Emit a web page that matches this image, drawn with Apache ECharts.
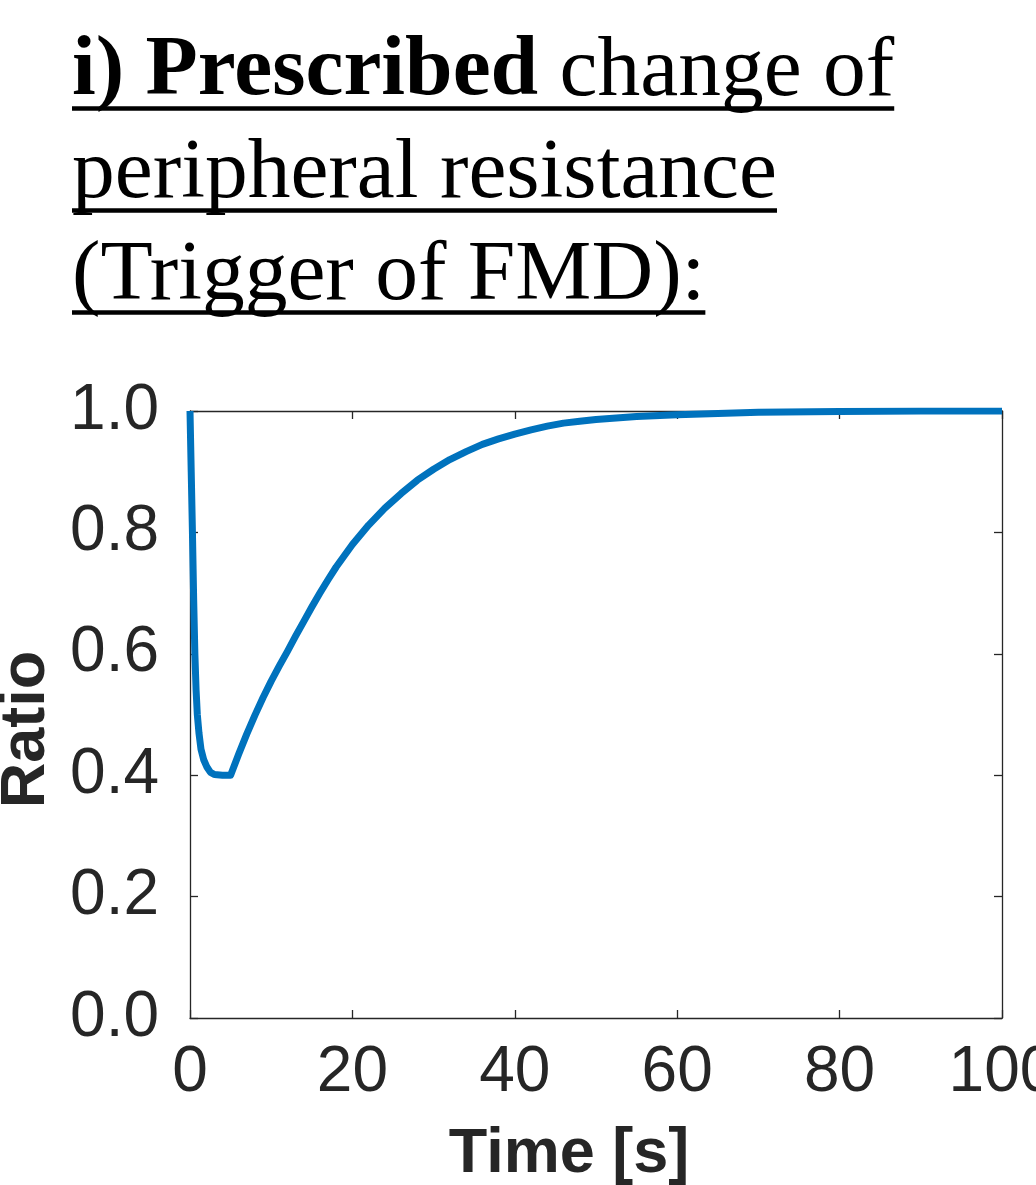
<!DOCTYPE html>
<html>
<head>
<meta charset="utf-8">
<script src="https://cdn.jsdelivr.net/npm/echarts@6/dist/echarts.min.js"></script>
<style>
  html, body { margin: 0; padding: 0; background: #ffffff; }
  #chart { width: 1036px; height: 1185px; }
</style>
</head>
<body>
<div id="chart"></div>
<script>
// Prescribed peripheral resistance ratio over time
const timeS = [0, 0.15, 0.3, 0.45, 0.6, 0.75, 0.9, 1.1, 1.35, 1.7, 2.1, 2.5, 3.0, 4.0, 5.0,
  6, 7, 8, 9, 10, 11, 12, 13, 14, 15, 16, 17, 18, 20, 22, 24, 26, 28, 30, 32, 34, 36, 38, 40,
  42, 44, 46, 48, 50, 55, 60, 65, 70, 80, 90, 100];
const ratio = [1.0, 0.9, 0.8, 0.69, 0.6, 0.54, 0.5, 0.47, 0.443, 0.425, 0.413, 0.405, 0.401, 0.4, 0.4,
  0.435, 0.468, 0.499, 0.528, 0.555, 0.580, 0.604, 0.629, 0.653, 0.677, 0.700, 0.722, 0.743, 0.780, 0.812, 0.840, 0.864, 0.886, 0.904, 0.920, 0.933, 0.945, 0.954, 0.962,
  0.969, 0.975, 0.980, 0.983, 0.986, 0.991, 0.994, 0.996, 0.998, 0.999, 1.0, 1.0];

const xTicks = [0, 20, 40, 60, 80, 100];
const yTicks = [0, 0.2, 0.4, 0.6, 0.8, 1.0];

const titleBold = 'i) Prescribed';
const titleLine1 = ' change of';
const titleLine2 = 'peripheral resistance';
const titleLine3 = '(Trigger of FMD):';

const ink = '#262626';
const serif = '"Liberation Serif", "Times New Roman", serif';
const sans = '"Liberation Sans", Arial, Helvetica, sans-serif';
const titleSize = 85.5;

// measure title widths so the underlines fit the text
const mctx = document.createElement('canvas').getContext('2d');
function textWidth(str, weight) {
  mctx.font = weight + ' ' + titleSize + 'px ' + serif;
  return mctx.measureText(str).width;
}
const w1 = textWidth(titleBold, 'bold') + textWidth(titleLine1, 'normal');
const w2 = textWidth(titleLine2, 'normal');
const w3 = textWidth(titleLine3, 'normal');

const titleLeft = 72;
const baselines = [96, 198, 300];
const midOffset = 24;

function underline(y, w) {
  return {
    type: 'line',
    shape: { x1: titleLeft, y1: y, x2: titleLeft + w, y2: y },
    style: { stroke: '#000000', lineWidth: 4.5 }
  };
}

const axisCommon = {
  min: 0,
  axisLine: { show: true, onZero: false, lineStyle: { color: ink, width: 1.3 } },
  axisTick: { show: true, inside: true, length: 8, lineStyle: { color: ink, width: 1.3 } },
  splitLine: { show: false }
};

const chart = echarts.init(document.getElementById('chart'), null, { renderer: 'canvas' });

chart.setOption({
  backgroundColor: '#ffffff',
  animation: false,
  grid: { left: 190, top: 411, width: 812, height: 607, containLabel: false, outerBoundsMode: 'none' },
  xAxis: [
    Object.assign({}, axisCommon, {
      type: 'value', position: 'bottom', max: 100, interval: 20,
      name: 'Time [s]', nameLocation: 'middle', nameGap: 105,
      nameTextStyle: { fontFamily: sans, fontWeight: 'bold', fontSize: 63, color: ink, padding: [0, 54, 0, 0] },
      axisLabel: {
        margin: 23, fontFamily: sans, fontSize: 64, color: ink,
        formatter: v => xTicks.includes(v) ? String(v) : ''
      }
    }),
    Object.assign({}, axisCommon, {
      type: 'value', position: 'top', max: 100, interval: 20,
      axisLabel: { show: false }
    })
  ],
  yAxis: [
    Object.assign({}, axisCommon, {
      type: 'value', position: 'left', max: 1, interval: 0.2,
      name: 'Ratio', nameLocation: 'middle', nameRotate: 90, nameGap: 132,
      nameTextStyle: { fontFamily: sans, fontWeight: 'bold', fontSize: 63, color: ink, padding: [0, 30, 0, 0] },
      axisLabel: {
        margin: 31, fontFamily: sans, fontSize: 64, color: ink,
        formatter: v => yTicks.some(t => Math.abs(t - v) < 1e-9) ? v.toFixed(1) : ''
      }
    }),
    Object.assign({}, axisCommon, {
      type: 'value', position: 'right', max: 1, interval: 0.2,
      axisLabel: { show: false }
    })
  ],
  series: [{
    type: 'line',
    xAxisIndex: 0,
    yAxisIndex: 0,
    data: timeS.map((t, i) => [t, ratio[i]]),
    showSymbol: false,
    smooth: false,
    lineStyle: { color: '#0072BD', width: 7, join: 'round', cap: 'butt' },
    z: 3
  }],
  graphic: [
    {
      type: 'text', left: titleLeft, top: baselines[0] - midOffset - titleSize / 2,
      style: {
        text: '{b|' + titleBold + '}{r|' + titleLine1 + '}',
        rich: {
          b: { fontFamily: serif, fontWeight: 'bold', fontSize: titleSize, fill: '#000000' },
          r: { fontFamily: serif, fontWeight: 'normal', fontSize: titleSize, fill: '#000000' }
        }
      }
    },
    {
      type: 'text', left: titleLeft, top: baselines[1] - midOffset - titleSize / 2,
      style: { text: titleLine2, font: 'normal ' + titleSize + 'px ' + serif, fill: '#000000' }
    },
    {
      type: 'text', left: titleLeft, top: baselines[2] - midOffset - titleSize / 2,
      style: { text: titleLine3, font: 'normal ' + titleSize + 'px ' + serif, fill: '#000000' }
    },
    underline(baselines[0] + 12.5, w1),
    underline(baselines[1] + 12.5, w2),
    underline(baselines[2] + 12.5, w3)
  ]
});
</script>
</body>
</html>
